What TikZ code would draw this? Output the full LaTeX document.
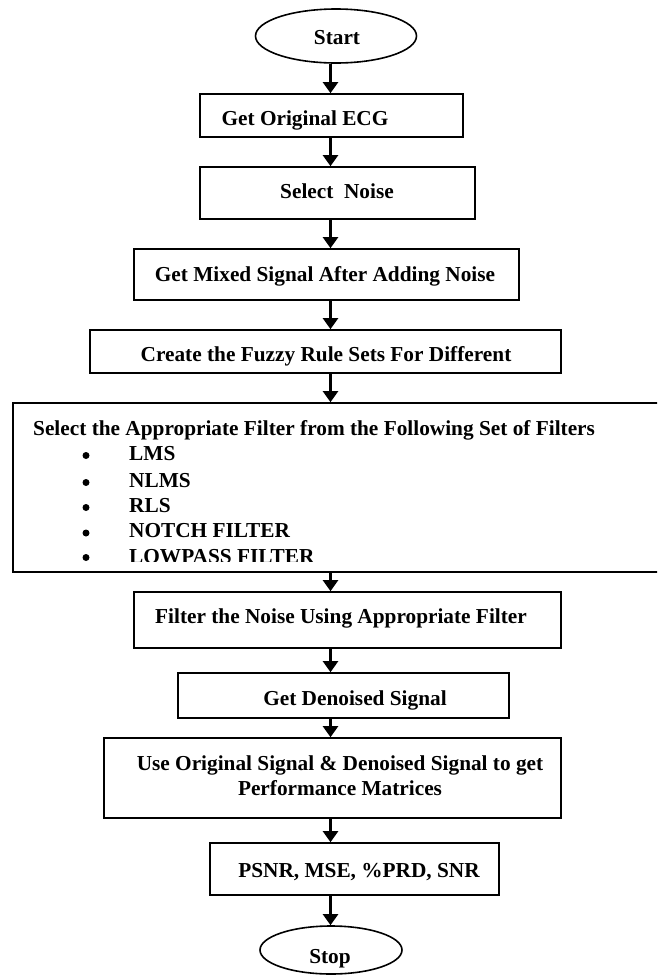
\documentclass[tikz,border=0pt]{standalone}
\usepackage{fontspec}
\setmainfont{Liberation Serif}
\usetikzlibrary{arrows.meta,shapes.geometric}
\tikzset{
  procbox/.style={draw, line width=1.6pt, rectangle, inner sep=0pt},
  term/.style={draw, line width=1.6pt, ellipse, inner sep=0pt},
  lbl/.style={anchor=base, inner sep=0pt, font=\fontsize{21.3}{26}\selectfont\bfseries},
  dot/.style={circle, fill, inner sep=0pt, minimum size=7pt},
  flow/.style={line width=2.3pt, -{Triangle[width=15pt,length=11pt]}},
}
\begin{document}
\begin{tikzpicture}[x=1pt,y=-1pt]
\useasboundingbox (0,0) rectangle (657,975);
\clip (0,0) rectangle (657,975);

% terminals and process boxes
\node[term, minimum width=161pt, minimum height=54pt] (start) at (336,36) {};
\node[procbox, minimum width=263pt, minimum height=43pt] (b1) at (331.5,115.5) {};
\node[procbox, minimum width=275pt, minimum height=52pt] (b2) at (337.5,193) {};
\node[procbox, minimum width=385pt, minimum height=51pt] (b3) at (326.5,274.5) {};
\node[procbox, minimum width=471pt, minimum height=43pt] (b4) at (325.5,351.5) {};
\node[procbox, minimum width=687pt, minimum height=169pt] (b5) at (356.5,487.5) {};
\node[procbox, minimum width=427pt, minimum height=56pt] (b6) at (347.5,620) {};
\node[procbox, minimum width=331pt, minimum height=45pt] (b7) at (343.5,695.5) {};
\node[procbox, minimum width=457pt, minimum height=80pt] (b8) at (332.5,778) {};
\node[procbox, minimum width=289pt, minimum height=52pt] (b9) at (354.5,869) {};
\node[term, minimum width=142pt, minimum height=48pt] (stop) at (331,950) {};

% labels
\node[lbl] (t0) at (337,44) {Start};
\node[lbl] (t1) at (305,125) {Get Original ECG};
\node[lbl] (t2) at (337,198.5) {Select\ \ Noise};
\node[lbl] (t3) at (325,281) {Get Mixed Signal After Adding Noise};
\node[lbl] (t4) at (326,361.5) {Create the Fuzzy Rule Sets For Different};
\node[lbl, anchor=base west] (t5) at (33,435) {Select the Appropriate Filter from the Following Set of Filters};

% filter list bullets
\node[dot] (u1) at (86,455.5) {};
\node[dot] (u2) at (86,482.5) {};
\node[dot] (u3) at (86,507.5) {};
\node[dot] (u4) at (86,533) {};
\node[dot] (u5) at (86,557.5) {};

% filter list items; the last line is cut by the text area
\begin{scope}
  \clip (0,400) rectangle (657,561);
  \node[lbl, anchor=base west] (i1) at (129,460) {LMS};
  \node[lbl, anchor=base west] (i2) at (129,487) {NLMS};
  \node[lbl, anchor=base west] (i3) at (129,512) {RLS};
  \node[lbl, anchor=base west] (i4) at (129,537.5) {NOTCH FILTER};
  \node[lbl, anchor=base west] (i5) at (129,563.5) {LOWPASS FILTER};
\end{scope}

\node[lbl] (t6) at (341,623) {Filter the Noise Using Appropriate Filter};
\node[lbl] (t7) at (355,705) {Get Denoised Signal};
\node[lbl] (t8a) at (340,770) {Use Original Signal \& Denoised Signal to get};
\node[lbl] (t8b) at (340,795) {Performance Matrices};
\node[lbl] (t9) at (359,877) {PSNR, MSE, \%PRD, SNR};
\node[lbl] (t10) at (330,963) {Stop};

% connectors, all on one vertical axis
\coordinate (ax) at (330.5,0);
\draw[flow] (start.south -| ax) -- (b1.north -| ax);
\draw[flow] (b1.south -| ax) -- (b2.north -| ax);
\draw[flow] (b2.south -| ax) -- (b3.north -| ax);
\draw[flow] (b3.south -| ax) -- (b4.north -| ax);
\draw[flow] (b4.south -| ax) -- (b5.north -| ax);
\draw[flow] (b5.south -| ax) -- (b6.north -| ax);
\draw[flow] (b6.south -| ax) -- (b7.north -| ax);
\draw[flow] (b7.south -| ax) -- (b8.north -| ax);
\draw[flow] (b8.south -| ax) -- (b9.north -| ax);
\draw[flow] (b9.south -| ax) -- (stop.north -| ax);
\end{tikzpicture}
\end{document}
